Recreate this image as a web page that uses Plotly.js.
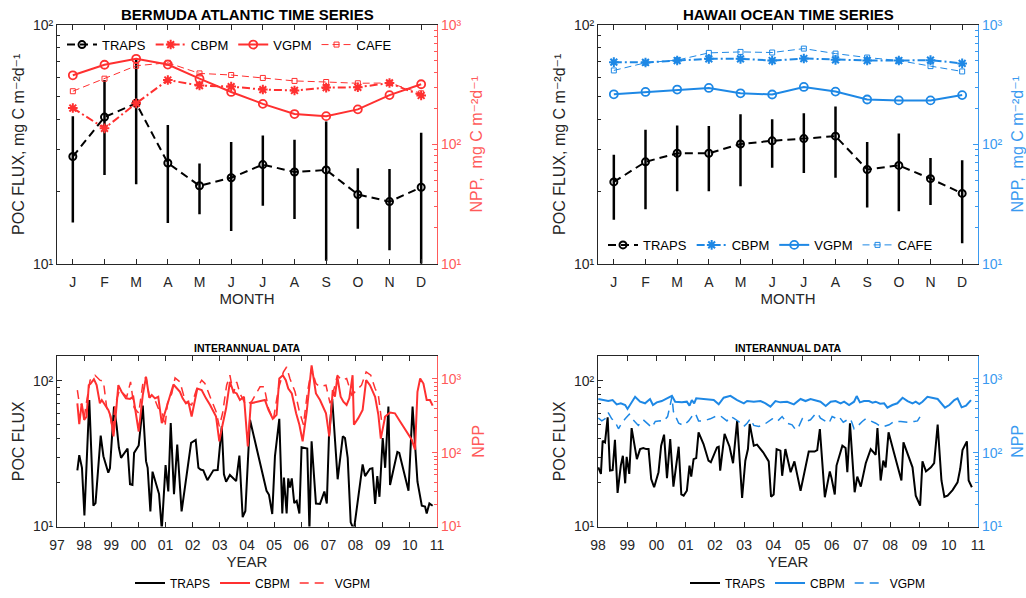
<!DOCTYPE html>
<html>
<head>
<meta charset="utf-8">
<script src="https://cdn.plot.ly/plotly-3.0.1.min.js"></script>
<style>html,body{margin:0;padding:0;background:#fff;}#chart{width:1026px;height:598px;}</style>
</head>
<body>
<div id="chart"></div>
<script>
// ---------- Monthly climatology ----------
const monthCats = ['Jan','Feb','Mar','Apr','May','Jun','Jul','Aug','Sep','Oct','Nov','Dec'];
const monthLetters = ['J','F','M','A','M','J','J','A','S','O','N','D'];

// BATS (POC flux, mg C m-2 d-1; NPP mg C m-2 d-1)
const batsTraps   = [28.1,41.1,46.9,26.4,21.2,22.9,26.0,24.2,24.7,19.5,18.2,20.9];
const batsTrapsHi = [41.4,58.7,72.1,38.1,26.3,32.3,34.4,33.0,39.4,25.1,24.9,35.3];
const batsTrapsLo = [14.9,23.5,21.5,14.8,16.1,13.7,17.5,15.4,10.3,14.0,11.4,10.0];
const batsCbpm = [201,136,220,345,310,304,287,282,298,300,326,256];
const batsVgpm = [378,463,519,465,354,274,218,179,172,196,258,318];
const batsCafe = [278,354,454,481,392,380,359,339,332,324,326,267];

// HOT
const hotTraps   = [22.0,26.7,29.0,29.0,31.7,32.7,33.4,34.2,24.8,25.8,22.7,19.7];
const hotTrapsHi = [28.6,36.4,37.9,37.7,42.2,40.2,42.6,45.5,32.3,35.1,27.7,27.1];
const hotTrapsLo = [15.3,16.9,20.1,20.1,21.1,25.2,24.0,22.9,17.2,16.6,17.6,12.2];
const hotCbpm = [487,484,502,519,519,502,522,509,502,502,506,475];
const hotVgpm = [262,274,287,296,267,261,302,276,237,233,233,258];
const hotCafe = [415,481,506,582,593,586,632,574,532,502,451,407];

// ---------- Interannual data ----------
const batsYearTicks = [1997,1998,1999,2000,2001,2002,2003,2004,2005,2006,2007,2008,2009,2010,2011];
const batsYearLabels = ['97','98','99','00','01','02','03','04','05','06','07','08','09','10','11'];
const hotYearTicks = [1998,1999,2000,2001,2002,2003,2004,2005,2006,2007,2008,2009,2010,2011];
const hotYearLabels = ['98','99','00','01','02','03','04','05','06','07','08','09','10','11'];

const batsTrapsYear = [
 1997.75,1997.82,1997.92,1998.01,1998.19,1998.34,1998.42,1998.61,1998.71,1998.89,
 1998.95,1999.10,1999.20,1999.28,1999.36,1999.60,1999.69,1999.78,1999.84,2000.01,
 2000.16,2000.28,2000.34,2000.44,2000.52,2000.76,2000.86,2001.00,2001.10,2001.19,
 2001.31,2001.43,2001.59,2001.72,2001.94,2002.11,2002.21,2002.29,2002.39,2002.54,
 2002.76,2002.92,2003.07,2003.15,2003.23,2003.37,2003.60,2003.72,2003.84,2003.94,
 2004.11,2004.72,2004.81,2004.93,2005.03,2005.19,2005.30,2005.36,2005.46,2005.52,
 2005.58,2005.65,2005.74,2005.83,2005.93,2006.01,2006.22,2006.30,2006.38,2006.54,
 2006.69,2006.85,2006.94,2007.02,2007.14,2007.34,2007.53,2007.61,2007.71,2007.82,
 2007.94,2008.26,2008.35,2008.53,2008.62,2008.72,2008.80,2008.88,2009.00,2009.09,
 2009.21,2009.27,2009.39,2009.54,2009.61,2009.95,2010.10,2010.28,2010.44,2010.56,
 2010.62,2010.72,2010.84];
const batsTrapsFlux = [
 24.3,30.9,25.3,11.9,73.9,13.9,14.5,42.1,30.4,23.4,
 25.1,66.5,48.6,34.7,29.6,34.3,19.5,19.3,32.0,36.0,
 67.6,28.1,25.3,12.7,23.8,16.7,9.5,26.4,17.4,51.3,
 16.7,36.5,12.7,19.0,37.5,39.3,25.3,24.6,24.3,20.8,
 24.3,24.4,48.6,22.8,20.3,22.6,20.5,30.7,11.6,12.8,
 54.0,17.6,16.5,12.2,30.4,54.8,12.3,21.7,12.3,21.4,
 18.5,21.4,14.5,15.0,12.3,35.0,34.3,9.5,38.5,14.4,
 14.3,17.4,14.4,41.6,75.0,21.1,41.6,40.5,29.6,10.7,
 9.5,26.7,22.2,24.9,25.1,14.3,22.2,16.0,40.5,25.3,
 66.5,19.3,24.6,32.5,32.0,17.6,66.5,20.3,13.9,13.7,
 12.3,14.4,13.9];

const batsCbpmYear = [
 1997.75,1997.82,1997.91,1998.00,1998.09,1998.17,1998.24,1998.36,1998.46,1998.58,
 1998.65,1998.77,1998.89,1998.98,1999.08,1999.17,1999.26,1999.38,1999.54,1999.69,
 1999.81,2000.01,2000.16,2000.28,2000.40,2000.49,2000.61,2000.73,2000.86,2001.29,
 2001.53,2001.63,2001.75,2001.84,2001.96,2002.17,2002.33,2002.49,2002.64,2002.86,
 2002.98,2003.10,2003.23,2003.37,2003.50,2003.62,2003.74,2003.89,2004.03,2004.14,
 2004.36,2004.66,2004.79,2004.95,2005.09,2005.19,2005.32,2005.43,2005.52,2005.65,
 2005.81,2005.93,2006.05,2006.20,2006.38,2006.54,2006.69,2006.91,2007.03,2007.16,
 2007.24,2007.33,2007.45,2007.55,2007.67,2007.77,2007.89,2007.94,2008.10,2008.26,
 2008.39,2008.53,2008.72,2008.84,2008.93,2009.09,2009.27,2009.45,2009.64,2009.88,
 2010.07,2010.19,2010.28,2010.38,2010.50,2010.62,2010.74,2010.84];
const batsCbpmNpp = [
 467,244,467,279,309,822,865,990,822,467,
 517,443,380,309,166,342,822,669,545,535,
 573,194,604,1064,556,604,545,573,251,839,
 669,545,467,491,309,741,705,545,443,309,
 143,239,400,912,669,635,517,573,122,467,
 491,517,380,288,325,1011,1120,960,741,635,
 342,239,143,361,1524,635,517,342,166,705,
 573,1064,573,491,443,545,1120,239,294,380,
 960,822,573,325,155,309,350,342,265,194,
 150,110,669,1011,865,517,517,434];

const batsVgpmYear = [
 1997.75,1997.82,1997.91,1998.00,1998.09,1998.22,1998.40,1998.58,1998.71,1998.83,
 1998.95,1999.05,1999.14,1999.30,1999.44,1999.57,1999.71,1999.84,2000.01,2000.18,
 2000.28,2000.40,2000.61,2000.73,2000.86,2000.98,2001.07,2001.23,2001.35,2001.53,
 2001.68,2001.84,2001.96,2002.15,2002.33,2002.45,2002.64,2002.86,2002.98,2003.10,
 2003.25,2003.37,2003.50,2003.62,2003.74,2003.87,2003.96,2004.17,2004.48,2004.63,
 2004.79,2004.97,2005.16,2005.34,2005.46,2005.58,2005.77,2005.93,2006.08,2006.22,
 2006.38,2006.54,2006.69,2006.91,2007.06,2007.18,2007.33,2007.49,2007.67,2007.86,
 2007.98,2008.22,2008.39,2008.56,2008.72,2008.84,2008.96,2009.09];
const batsVgpmNpp = [
 705,467,443,294,491,960,1120,960,930,408,
 325,205,443,705,635,573,912,408,342,960,
 1064,573,517,400,380,227,467,635,1031,912,
 573,467,443,741,960,865,573,361,227,342,
 822,1120,635,912,635,517,443,491,782,782,
 400,279,741,1241,1449,1011,669,361,239,635,
 1376,865,782,822,467,669,1120,960,1011,604,
 669,822,1241,1120,741,604,265,309];

const hotTrapsYear = [
 1998.01,1998.10,1998.16,1998.24,1998.33,1998.41,1998.50,1998.58,1998.67,1998.78,
 1998.85,1998.93,1998.98,1999.07,1999.15,1999.25,1999.33,1999.44,1999.55,1999.65,
 1999.73,1999.82,1999.92,2000.07,2000.16,2000.26,2000.36,2000.47,2000.58,2000.76,
 2000.85,2000.93,2001.04,2001.13,2001.19,2001.27,2001.36,2001.44,2001.61,2001.78,
 2001.86,2002.07,2002.13,2002.18,2002.33,2002.50,2002.62,2002.76,2002.93,2003.04,
 2003.13,2003.19,2003.33,2003.44,2003.65,2003.84,2003.92,2004.01,2004.11,2004.24,
 2004.30,2004.41,2004.59,2004.72,2004.93,2005.21,2005.29,2005.41,2005.50,2005.59,
 2005.76,2005.93,2005.99,2006.10,2006.16,2006.36,2006.47,2006.53,2006.62,2006.78,
 2006.87,2006.99,2007.16,2007.33,2007.50,2007.56,2007.67,2007.76,2007.84,2007.94,
 2008.13,2008.38,2008.45,2008.76,2008.87,2009.02,2009.10,2009.22,2009.39,2009.50,
 2009.62,2009.75,2009.85,2009.96,2010.13,2010.30,2010.39,2010.47,2010.62,2010.68,
 2010.79];
const hotTrapsFlux = [
 25.5,23.0,38.8,37.8,56.1,24.2,24.4,39.3,17.0,26.2,
 30.6,19.8,30.1,23.0,47.4,34.9,29.0,34.0,34.6,34.0,
 34.0,21.2,18.6,23.6,35.9,42.7,21.5,39.8,18.8,35.3,
 16.6,16.3,17.6,26.2,22.0,29.0,29.5,44.3,36.8,28.3,
 27.6,34.9,35.3,24.2,43.2,35.3,27.2,53.2,15.7,28.3,
 34.0,50.5,35.9,36.5,32.3,28.0,16.0,16.6,34.0,33.2,
 22.3,34.0,23.6,28.0,17.6,32.7,32.7,32.7,33.5,46.6,
 15.9,23.9,21.5,16.6,26.2,35.9,34.6,23.6,51.0,17.2,
 22.0,18.8,27.2,34.0,31.1,47.4,20.7,28.3,25.5,44.3,
 31.8,20.7,37.8,25.5,16.3,13.9,28.0,23.9,25.5,27.2,
 50.0,20.7,16.0,16.3,17.8,20.1,24.8,33.5,38.4,20.7,
 18.6];

const hotCbpmYear = [
 1998.01,1998.18,1998.35,1998.50,1998.64,1998.78,1998.93,1999.01,1999.12,1999.27,
 1999.44,1999.61,1999.78,1999.88,2000.01,2000.18,2000.36,2000.53,2000.64,2000.87,
 2001.04,2001.13,2001.21,2001.29,2001.36,2001.56,2001.78,2001.96,2002.13,2002.30,
 2002.53,2002.76,2002.99,2003.10,2003.33,2003.56,2003.73,2003.90,2004.07,2004.24,
 2004.47,2004.70,2004.93,2005.10,2005.27,2005.44,2005.61,2005.79,2005.96,2006.13,
 2006.30,2006.42,2006.59,2006.76,2006.85,2006.96,2007.10,2007.27,2007.39,2007.50,
 2007.65,2007.79,2007.90,2008.07,2008.24,2008.42,2008.59,2008.76,2008.87,2008.99,
 2009.10,2009.27,2009.45,2009.62,2009.87,2010.02,2010.19,2010.30,2010.44,2010.59,
 2010.76];
const hotCbpmNpp = [
 534,517,501,517,452,467,443,392,467,573,
 491,467,534,443,481,501,545,590,491,481,
 491,434,517,467,545,534,534,517,452,556,
 590,517,467,501,491,501,467,421,501,481,
 491,452,534,501,534,517,491,430,491,501,
 467,491,443,491,585,481,501,501,476,491,
 462,467,408,443,467,556,501,467,491,457,
 491,573,556,534,408,443,517,545,412,434,
 517];

const hotVgpmYear = [
 1998.01,1998.13,1998.24,1998.35,1998.47,1998.58,1998.70,1998.81,1998.93,1999.07,
 1999.15,1999.27,1999.38,1999.55,1999.73,1999.84,1999.96,2000.13,2000.24,2000.38,
 2000.47,2000.53,2000.58,2000.76,2000.93,2001.10,2001.21,2001.33,2001.44,2001.61,
 2001.84,2002.01,2002.18,2002.30,2002.41,2002.53,2002.64,2002.81,2002.99,2003.10,
 2003.21,2003.33,2003.50,2003.67,2003.84,2003.96,2004.13,2004.30,2004.47,2004.64,
 2004.76,2004.87,2004.99,2005.10,2005.27,2005.41,2005.52,2005.61,2005.79,2005.90,
 2006.01,2006.13,2006.24,2006.39,2006.53,2006.64,2006.76,2006.87,2007.04,2007.16,
 2007.33,2007.50,2007.67,2007.79,2007.96,2008.13,2008.36,2008.59,2008.82,2008.93,
 2009.02];
const hotVgpmNpp = [
 294,270,288,350,288,265,211,251,288,332,
 294,265,234,279,244,220,265,270,265,309,
 443,573,361,251,234,270,309,342,270,270,
 288,309,318,294,270,309,294,265,227,251,
 288,234,227,239,265,288,265,309,251,239,
 205,227,288,265,279,325,342,294,265,251,
 309,294,309,259,279,288,211,227,265,288,
 270,251,227,227,239,265,265,259,265,270,
 309];

// Tick labels for the log axes
const logTickVals2 = [10,100];
const logTickText2 = ['10\u00B9','10\u00B2'];
const logTickVals3 = [10,100,1000];
const logTickText3 = ['10\u00B9','10\u00B2','10\u00B3'];

// ---------- Styles ----------
const RED = '#ff3030';
const RED_AX = '#ff5a5a';
const BLUE = '#1e88e5';
const BLUE_AX = '#3a9af0';
const AXC = '#262626';
const FONT = 'Liberation Sans, Arial, Helvetica, DejaVu Sans, sans-serif';

function plus(mean, hi){ return hi.map((h,i)=>h-mean[i]); }
function minus(mean, lo){ return lo.map((l,i)=>mean[i]-l); }
function minorVals(maxExp){ const v=[]; for(let e=1;e<maxExp;e++){ for(let k=2;k<=9;k++) v.push(k*Math.pow(10,e)); } return v; }

function trapsTrace(y, hi, lo, xa, ya, leg){
  return {x: monthCats, y: y, xaxis: xa, yaxis: ya, name: 'TRAPS', legend: leg,
    type:'scatter', mode:'lines+markers',
    line:{color:'#000', width:2, dash:'8px,5px'},
    marker:{symbol:'circle-open', size:7, color:'#000', line:{width:2}},
    error_y:{type:'data', symmetric:false, array: plus(y,hi), arrayminus: minus(y,lo), color:'#000', thickness:2.5, width:0}};
}
function modelTraces(cb, vg, ca, col, xa, ya, leg){
  return [
    {x: monthCats, y: cb, xaxis: xa, yaxis: ya, name:'CBPM', legend: leg, type:'scatter', mode:'lines+markers',
     line:{color:col, width:2, dash:'8px,3px,2px,3px'}, marker:{symbol:'asterisk-open', size:8, color:col, line:{width:2, color:col}}},
    {x: monthCats, y: vg, xaxis: xa, yaxis: ya, name:'VGPM', legend: leg, type:'scatter', mode:'lines+markers',
     line:{color:col, width:2}, marker:{symbol:'circle-open', size:8, color:col, line:{width:1.8, color:col}}},
    {x: monthCats, y: ca, xaxis: xa, yaxis: ya, name:'CAFE', legend: leg, type:'scatter', mode:'lines+markers',
     line:{color:col, width:1, dash:'7px,4px'}, marker:{symbol:'square-open', size:5, color:col, line:{width:1, color:col}}}
  ];
}

const traces = [
  trapsTrace(batsTraps, batsTrapsHi, batsTrapsLo, 'x', 'y', 'legend'),
  ...modelTraces(batsCbpm, batsVgpm, batsCafe, RED, 'x', 'y2', 'legend'),
  trapsTrace(hotTraps, hotTrapsHi, hotTrapsLo, 'x2', 'y3', 'legend2'),
  ...modelTraces(hotCbpm, hotVgpm, hotCafe, BLUE, 'x2', 'y4', 'legend2'),
  {x: batsTrapsYear, y: batsTrapsFlux, xaxis:'x3', yaxis:'y5', name:'TRAPS', legend:'legend3', type:'scatter', mode:'lines',
   line:{color:'#000', width:2}},
  {x: batsCbpmYear, y: batsCbpmNpp, xaxis:'x3', yaxis:'y6', name:'CBPM', legend:'legend3', type:'scatter', mode:'lines',
   line:{color:RED, width:2}},
  {x: batsVgpmYear, y: batsVgpmNpp, xaxis:'x3', yaxis:'y6', name:'VGPM', legend:'legend3', type:'scatter', mode:'lines',
   line:{color:RED, width:1.5, dash:'9px,6px'}},
  {x: hotTrapsYear, y: hotTrapsFlux, xaxis:'x4', yaxis:'y7', name:'TRAPS', legend:'legend4', type:'scatter', mode:'lines',
   line:{color:'#000', width:2}},
  {x: hotCbpmYear, y: hotCbpmNpp, xaxis:'x4', yaxis:'y8', name:'CBPM', legend:'legend4', type:'scatter', mode:'lines',
   line:{color:BLUE, width:2}},
  {x: hotVgpmYear, y: hotVgpmNpp, xaxis:'x4', yaxis:'y8', name:'VGPM', legend:'legend4', type:'scatter', mode:'lines',
   line:{color:BLUE, width:1.5, dash:'9px,6px'}}
];

const DX_L = [57/1026, 437/1026];
const DX_R = [598/1026, 978/1026];
const DY_T = [1-266/598, 1-25/598];
const DY_B = [1-531/598, 1-359/598];

function monthAxis(domain, anchor){
  return {domain: domain, anchor: anchor, type:'category', range:[-0.5,11.5],
    tickmode:'array', tickvals: monthCats, ticktext: monthLetters,
    ticks:'inside', ticklen:5, tickcolor:AXC, showline:true, linecolor:AXC, linewidth:1, mirror:'ticks',
    ticklabelstandoff:5,
    showgrid:false, zeroline:false, tickfont:{size:14, color:'#262626'},
    title:{text:'MONTH', font:{size:15, color:'#262626'}, standoff:2}};
}
function yearAxis(domain, anchor, r, tv, tt){
  return {domain: domain, anchor: anchor, type:'linear', range:r,
    tickmode:'array', tickvals: tv, ticktext: tt,
    ticks:'inside', ticklen:5, tickcolor:AXC, showline:true, linecolor:AXC, linewidth:1, mirror:'ticks',
    ticklabelstandoff:6,
    showgrid:false, zeroline:false, tickfont:{size:14, color:'#262626'},
    title:{text:'YEAR', font:{size:15, color:'#262626'}, standoff:4}};
}
function leftLog(domain, anchor, r, title, tsize){
  return {domain: domain, anchor: anchor, type:'log', range:r,
    tickmode:'array', tickvals: logTickVals2, ticktext: logTickText2,
    ticks:'inside', ticklen:5, tickcolor:AXC, showline:true, linecolor:AXC, linewidth:1, mirror:false,
    minor:{tickmode:'array', tickvals: minorVals(2), ticks:'inside', ticklen:3, tickcolor:AXC, showgrid:false},
    showgrid:false, zeroline:false, tickfont:{size:14, color:'#262626'},
    title:{text:title, font:{size:tsize, color:'#262626'}, standoff:4}};
}
function rightLog(over, anchor, r, title, col, tsize, so){
  return {overlaying: over, anchor: anchor, side:'right', type:'log', range:r,
    tickmode:'array', tickvals: logTickVals3, ticktext: logTickText3,
    ticks:'inside', ticklen:5, tickcolor:col, showline:true, linecolor:col, linewidth:1.2,
    minor:{tickmode:'array', tickvals: minorVals(3), ticks:'inside', ticklen:3, tickcolor:col, showgrid:false},
    showgrid:false, zeroline:false, tickfont:{size:14, color:col},
    title:{text:title, font:{size:tsize, color:col}, standoff:so}};
}

const pocTitle = 'POC FLUX, mg C m\u207B\u00B2d\u207B\u00B9';
const nppTitle = 'NPP,\u00A0 mg C m\u207B\u00B2d\u207B\u00B9';

const legBase = {orientation:'h', bgcolor:'rgba(0,0,0,0)', borderwidth:0, itemwidth:30,
  font:{size:13, color:'#000'}, yanchor:'middle', tracegroupgap:0, itemclick:false, itemdoubleclick:false};

const layout = {
  width:1026, height:598,
  margin:{l:0, r:0, t:0, b:0},
  paper_bgcolor:'#fff', plot_bgcolor:'#fff',
  font:{family: FONT, color:'#000'},
  showlegend:true, hovermode:false,
  xaxis: monthAxis(DX_L, 'y'),
  yaxis: leftLog(DY_T, 'x', [1,2], pocTitle, 16),
  yaxis2: rightLog('y', 'x', [1,3], nppTitle, RED_AX, 16, 10),
  xaxis2: monthAxis(DX_R, 'y3'),
  yaxis3: leftLog(DY_T, 'x2', [1,2], pocTitle, 16),
  yaxis4: rightLog('y3', 'x2', [1,3], nppTitle, BLUE_AX, 16, 10),
  xaxis3: yearAxis(DX_L, 'y5', [1997,2011], batsYearTicks, batsYearLabels),
  yaxis5: leftLog(DY_B, 'x3', [1,2.17], 'POC FLUX', 16),
  yaxis6: rightLog('y5', 'x3', [1,3.31], 'NPP', RED_AX, 16, 12),
  xaxis4: yearAxis(DX_R, 'y7', [1998,2011], hotYearTicks, hotYearLabels),
  yaxis7: leftLog(DY_B, 'x4', [1,2.17], 'POC FLUX', 16),
  yaxis8: rightLog('y7', 'x4', [1,3.31], 'NPP', BLUE_AX, 16, 12),
  legend: Object.assign({}, legBase, {x:62/1026, xanchor:'left', y:1-45/598}),
  legend2: Object.assign({}, legBase, {x:603/1026, xanchor:'left', y:1-247/598}),
  legend3: Object.assign({}, legBase, {x:253/1026, xanchor:'center', y:1-588/598, font:{size:12, color:'#000'}}),
  legend4: Object.assign({}, legBase, {x:808/1026, xanchor:'center', y:1-588/598, font:{size:12, color:'#000'}}),
  annotations: [
    {text:'<b>BERMUDA ATLANTIC TIME SERIES</b>', xref:'paper', yref:'paper', x:247/1026, y:1-15/598, showarrow:false, font:{size:15, color:'#000'}, xanchor:'center', yanchor:'middle'},
    {text:'<b>HAWAII OCEAN TIME SERIES</b>', xref:'paper', yref:'paper', x:788/1026, y:1-15/598, showarrow:false, font:{size:15, color:'#000'}, xanchor:'center', yanchor:'middle'},
    {text:'<b>INTERANNUAL DATA</b>', xref:'paper', yref:'paper', x:247/1026, y:1-351/598, showarrow:false, font:{size:10.5, color:'#000'}, xanchor:'center', yanchor:'middle'},
    {text:'<b>INTERANNUAL DATA</b>', xref:'paper', yref:'paper', x:788/1026, y:1-351/598, showarrow:false, font:{size:10.5, color:'#000'}, xanchor:'center', yanchor:'middle'}
  ]
};

Plotly.newPlot('chart', traces, layout, {staticPlot:true, displayModeBar:false});
</script>
</body>
</html>
